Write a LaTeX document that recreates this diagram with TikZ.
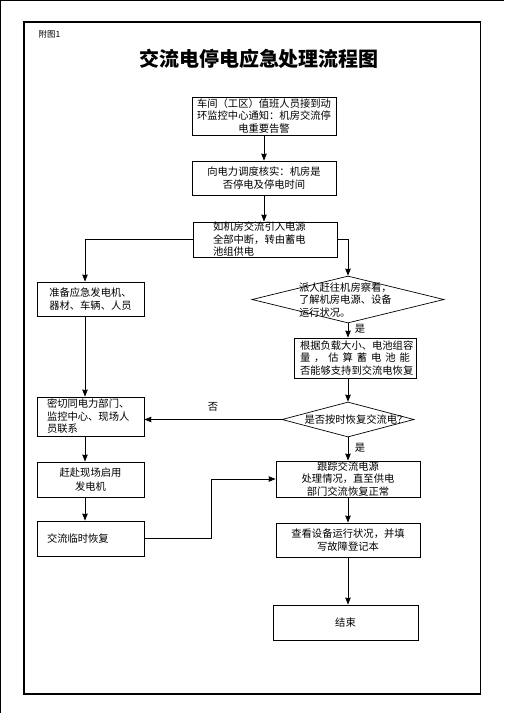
\documentclass[tikz,border=0pt]{standalone}
\usepackage{fontspec}
\newfontfamily\cjk{Noto Sans CJK SC}
\usetikzlibrary{arrows.meta,shapes.geometric}

\begin{document}
\begin{tikzpicture}[
  x=1pt, y=-1pt,
  >={Stealth[length=7pt,width=5.5pt,inset=0.5pt]},
  line join=miter,
  every node/.style={font=\cjk\fontsize{10.3}{12.5}\selectfont},
  box/.style={draw, line width=0.8pt, inner xsep=2pt, inner ysep=0pt, align=center},
  lbox/.style={box, align=left},
  choice/.style={draw, diamond, line width=0.7pt, inner sep=0pt},
  flow/.style={->, line width=0.8pt}
]
  \useasboundingbox (0,0) rectangle (504,713);

  % page edge and frame
  \draw[line width=1.2pt] (0.6,713) -- (0.6,0.6) -- (504,0.6);
  \draw[line width=1.1pt] (24,22) rectangle (480.5,694);

  \node[anchor=west] (figno) at (35,34) {\fontsize{8.5}{10}\selectfont 附图1};
  \node (title) at (259,59) {\fontsize{20}{24}\selectfont\bfseries 交流电停电应急处理流程图};

  \coordinate (lcol) at (85,0);
  \coordinate (rcol) at (348,0);
  \coordinate (bend) at (211,0);

  % main column
  \node[box, minimum width=144pt, minimum height=38pt] (b1) at (264,116)
    {车间（工区）值班人员接到动\\环监控中心通知：机房交流停\\电重要告警};
  \node[box, minimum width=144pt, minimum height=34pt] (b2) at (264,178)
    {向电力调度核实：机房是\\否停电及停电时间};
  \node[lbox, text width=104pt, inner xsep=20pt, minimum height=35pt] (b3) at (265,239.5)
    {如机房交流引入电源\\全部中断，转由蓄电\\池组供电};

  % right branch
  \node[choice, minimum width=192pt, minimum height=47pt] (d1) at (348,299.5) {};
  \node[align=left, text width=102pt, inner sep=0pt] (d1txt) at (350,300)
    {派人赶往机房察看，\\了解机房电源、设备\\运行状况。};
  \node[lbox, text width=110pt, inner xsep=6pt, minimum height=40pt] (b5) at (355,358)
    {根据负载大小、电池组容\\量\hfill，\hfill 估\hfill 算\hfill 蓄\hfill 电\hfill 池\hfill 能\\否能够支持到交流电恢复};
  \node[choice, minimum width=132pt, minimum height=35pt] (d2) at (348,419.5) {};
  \node[inner sep=0pt] (d2txt) at (356,419.5) {是否按时恢复交流电？};
  \node[box, minimum width=144pt, minimum height=36pt] (b9) at (348,479)
    {跟踪交流电源\\处理情况，直至供电\\部门交流恢复正常};
  \node[box, minimum width=144pt, minimum height=34pt] (b10) at (348,540)
    {查看设备运行状况，并填\\写故障登记本};
  \node[box, minimum width=145pt, minimum height=35pt] (b11) at (345.5,622.5) {结束};

  % left branch
  \node[box, minimum width=107pt, minimum height=34pt] (b4) at (90.5,299)
    {准备应急发电机、\\器材、车辆、人员};
  \node[lbox, text width=87pt, inner xsep=10pt, minimum height=39pt] (b6) at (90.5,416.5)
    {密切同电力部门、\\监控中心、现场人\\员联系};
  \node[box, minimum width=107pt, minimum height=35pt] (b7) at (90.5,479.5)
    {赶赴现场启用\\[2pt]发电机};
  \node[lbox, text width=87pt, inner xsep=10pt, minimum height=35pt] (b8) at (90.5,538.5)
    {交流临时恢复};

  % connectors
  \draw[flow] (b1.south) -- (b2.north);
  \draw[flow] (b2.south) -- (b2.south |- b3.north);
  \draw[flow] (b3.west) -| (b4.north -| lcol);
  \draw[flow] (b3.east) -| (d1.north);
  \draw[flow] (d1.south) -- (b5.north -| rcol);
  \draw[flow] (b5.south -| rcol) -- (d2.north);
  \draw[flow] (d2.west) -- (d2.west -| b6.east);
  \draw[flow] (d2.south) -- (b9.north);
  \draw[flow] (b9.south) -- (b10.north);
  \draw[flow] (b10.south -| rcol) -- (b11.north -| rcol);
  \draw[flow] (b4.south -| lcol) -- (b6.north -| lcol);
  \draw[flow] (b6.south -| lcol) -- (b7.north -| lcol);
  \draw[flow] (b7.south -| lcol) -- (b8.north -| lcol);
  \draw[flow] (b8.east) -- (b8.east -| bend) |- (b9.west);

  \node (yes1) at (360,329) {是};
  \node (yes2) at (360,448) {是};
  \node (no) at (213,407) {否};
\end{tikzpicture}
\end{document}
